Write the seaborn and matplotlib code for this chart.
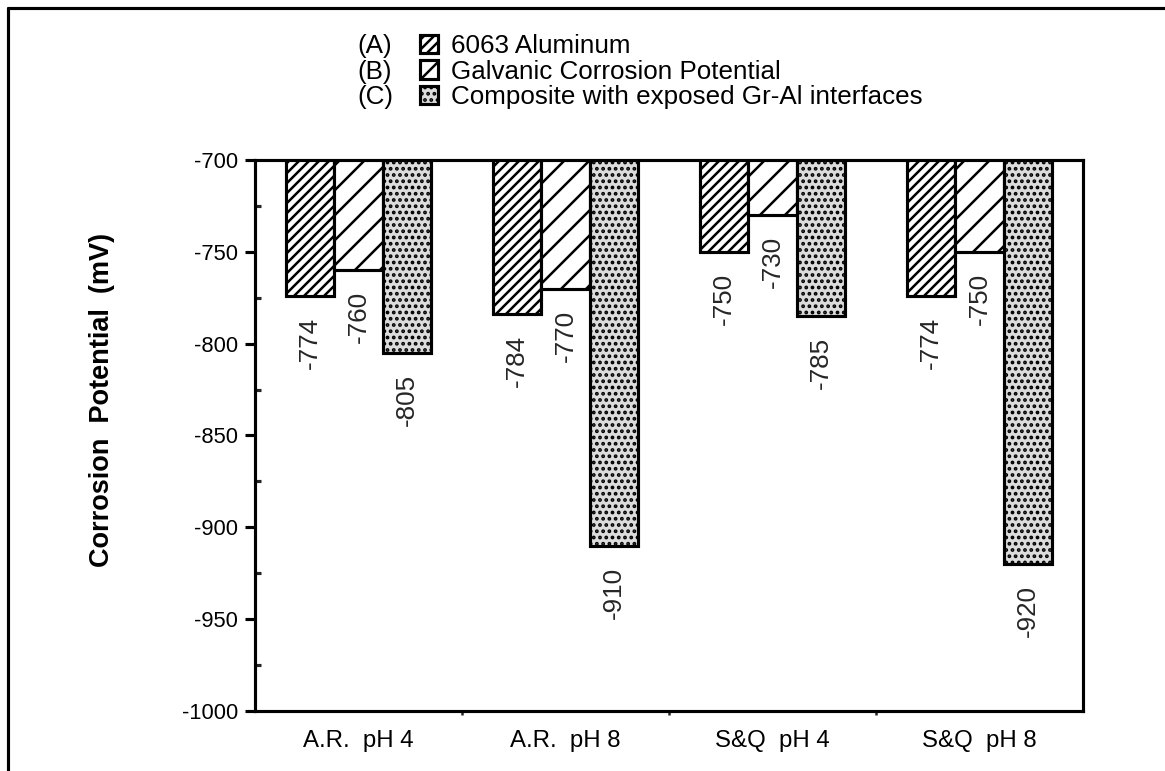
import numpy as np
import pandas as pd
import seaborn as sns
import matplotlib.pyplot as plt
from matplotlib.lines import Line2D
from matplotlib.ticker import MultipleLocator, FixedLocator

# Chart data
categories = ["A.R.  pH 4", "A.R.  pH 8", "S&Q  pH 4", "S&Q  pH 8"]
series = ["6063 Aluminum", "Galvanic Corrosion Potential",
          "Composite with exposed Gr-Al interfaces"]
series_tags = ["(A)", "(B)", "(C)"]
aluminum = [-774, -784, -750, -774]
galvanic = [-760, -770, -730, -750]
composite = [-805, -910, -785, -920]

# Long-form table for seaborn
df = pd.DataFrame({
    "condition": categories * 3,
    "series": [s for s in series for _ in categories],
    "potential": aluminum + galvanic + composite,
})

sns.set_theme(style="white")
plt.rcParams['font.family'] = ['Liberation Sans', 'DejaVu Sans']
plt.rcParams['axes.unicode_minus'] = False
plt.rcParams['hatch.linewidth'] = 1.2
plt.rcParams['hatch.color'] = 'black'

DPI = 150
fig = plt.figure(figsize=(1165 / DPI, 771 / DPI), dpi=DPI)
ax = fig.add_axes([0.2189, 0.0778, 0.9296 - 0.2189, 0.7925 - 0.0778])

sns.barplot(data=df, x="condition", y="potential", hue="series",
            order=categories, hue_order=series, width=0.7, gap=0,
            errorbar=None, ax=ax, legend=False)

# Bar styling: dense hatch, sparse hatch, stipple
styles = [("white", "/////"), ("white", "//"), ("#dcdcdc", "....")]
for cont, (fc, hatch) in zip(ax.containers, styles):
    for bar in cont.patches:
        bar.set_facecolor(fc)
        bar.set_edgecolor("black")
        bar.set_linewidth(1.5)
        bar.set_hatch(hatch)

ax.set_ylim(-1000, -700)

# Value labels below each bar
for cont, vals in zip(ax.containers, [aluminum, galvanic, composite]):
    for bar, v in zip(cont.patches, vals):
        ax.annotate(f"{v}", xy=(bar.get_x() + bar.get_width() / 2, v),
                    xytext=(0, -10), textcoords="offset points",
                    rotation=90, ha="center", va="top", fontsize=12.5)

# Axes / ticks
for sp in ax.spines.values():
    sp.set_visible(True)
    sp.set_linewidth(1.5)
    sp.set_color("black")

ax.yaxis.set_major_locator(MultipleLocator(50))
ax.yaxis.set_minor_locator(MultipleLocator(25))
ax.tick_params(axis="y", which="major", direction="out", length=5, width=1.5,
               labelsize=10.5, pad=3, left=True, colors="black")
ax.tick_params(axis="y", which="minor", direction="in", length=3, width=1.5, left=True)
ax.xaxis.set_minor_locator(FixedLocator([0.5, 1.5, 2.5]))
ax.tick_params(axis="x", which="major", length=0, labelsize=11.5, pad=9, colors="black")
ax.tick_params(axis="x", which="minor", direction="out", length=2, width=1.2, bottom=True)

ax.set_xlabel("")
ax.set_ylabel("Corrosion  Potential  (mV)", fontsize=13, fontweight="bold", color="black")
ax.yaxis.set_label_coords(-0.169, 0.565)

# Legend above the axes
leg = ax.legend(ax.containers, series, loc="upper left", frameon=False,
                bbox_to_anchor=(0.199, 1.228), fontsize=12.5,
                handlelength=0.7, handleheight=0.7, handletextpad=0.5,
                labelspacing=0.05, borderaxespad=0, borderpad=0)
for t in leg.get_texts():
    t.set_color("black")
for i, tag in enumerate(series_tags):
    fig.text(357 / 1165, 1 - (46 + 25.5 * i) / 771, tag, fontsize=12.5,
             ha="left", va="center", color="black")

# Outer frame of the original figure
fig.add_artist(Line2D([8 / 1165, 8 / 1165], [0, 1 - 8 / 771], color="black",
                      lw=1.5, transform=fig.transFigure))
fig.add_artist(Line2D([8 / 1165, 1], [1 - 8 / 771, 1 - 8 / 771], color="black",
                      lw=1.5, transform=fig.transFigure))

fig.savefig("out.png", dpi=DPI)
